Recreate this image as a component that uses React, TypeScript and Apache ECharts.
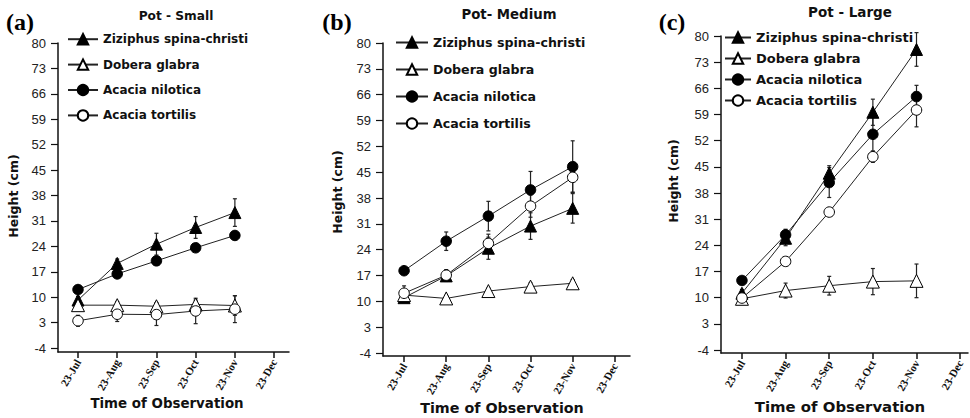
import React, { useEffect, useRef } from 'react';
import * as echarts from 'echarts';

const months = ['23-Jul', '23-Aug', '23-Sep', '23-Oct', '23-Nov', '23-Dec'];
const yTicks = [-4, 3, 10, 17, 24, 31, 38, 45, 52, 59, 66, 73, 80];
const species = ['Ziziphus spina-christi', 'Dobera glabra', 'Acacia nilotica', 'Acacia tortilis'];
const panelTitles = ['Pot - Small', 'Pot- Medium', 'Pot - Large'];
const panelLetters = ['(a)', '(b)', '(c)'];

// Pot - Small
const smallZiziphus = [9.2, 19.3, 24.6, 29.2, 33.3];
const smallZiziphusErr = [1.0, 1.2, 3.0, 3.0, 3.8];
const smallDobera = [7.8, 7.8, 7.5, 8.0, 7.7];
const smallDoberaErr = [1.0, 1.0, 1.0, 1.2, 2.7];
const smallNilotica = [12.1, 16.4, 20.0, 23.6, 27.0];
const smallNiloticaErr = [0.8, 0.8, 0.8, 1.0, 1.2];
const smallTortilis = [3.5, 5.3, 5.2, 6.2, 6.7];
const smallTortilisErr = [1.5, 2.0, 3.0, 3.5, 3.7];

// Pot - Medium
const mediumZiziphus = [11.0, 16.9, 24.4, 30.4, 35.2];
const mediumZiziphusErr = [0.8, 1.5, 3.0, 3.6, 4.0];
const mediumDobera = [11.7, 10.8, 12.8, 14.0, 14.9];
const mediumDoberaErr = [0.8, 0.8, 0.8, 1.0, 1.0];
const mediumNilotica = [18.3, 26.3, 33.1, 40.2, 46.5];
const mediumNiloticaErr = [0.8, 2.5, 4.0, 5.0, 7.0];
const mediumTortilis = [12.2, 17.1, 25.7, 35.8, 43.6];
const mediumTortilisErr = [2.0, 1.5, 2.5, 3.0, 4.0];

// Pot - Large
const largeZiziphus = [11.2, 25.9, 43.3, 59.6, 76.4];
const largeZiziphusErr = [1.0, 2.0, 2.0, 3.5, 4.5];
const largeDobera = [9.7, 11.9, 13.2, 14.3, 14.5];
const largeDoberaErr = [0.8, 2.0, 2.5, 3.5, 4.5];
const largeNilotica = [14.6, 26.8, 40.8, 53.7, 63.8];
const largeNiloticaErr = [0.8, 1.5, 4.0, 4.5, 3.0];
const largeTortilis = [9.9, 19.7, 32.9, 47.7, 60.2];
const largeTortilisErr = [0.8, 1.0, 1.0, 1.5, 4.5];

const panelValues = [
  [smallZiziphus, smallDobera, smallNilotica, smallTortilis],
  [mediumZiziphus, mediumDobera, mediumNilotica, mediumTortilis],
  [largeZiziphus, largeDobera, largeNilotica, largeTortilis],
];
const panelErrors = [
  [smallZiziphusErr, smallDoberaErr, smallNiloticaErr, smallTortilisErr],
  [mediumZiziphusErr, mediumDoberaErr, mediumNiloticaErr, mediumTortilisErr],
  [largeZiziphusErr, largeDoberaErr, largeNiloticaErr, largeTortilisErr],
];

const markerShape = ['triangle', 'triangle', 'circle', 'circle'];
const markerFill = ['#000', '#fff', '#000', '#fff'];
const markerSize = [12, 13, 10.5, 10.5];

const grids = [
  { left: 58, top: 43, width: 231, height: 309 },
  { left: 383, top: 43, width: 247, height: 313 },
  { left: 721, top: 36, width: 247, height: 317 },
];
const xRange = [
  [-0.51, 5.38],
  [-0.5, 5.36],
  [-0.48, 5.18],
];
const yMin = [-5.1, -4.8, -4.8];

const legendPos = [
  { left: 67, top: 33, itemWidth: 30, gap: 13, font: 12 },
  { left: 395, top: 36, itemWidth: 32, gap: 14, font: 12.6 },
  { left: 724, top: 31, itemWidth: 26, gap: 8, font: 13 },
];

const titlePos = [
  { x: 176, y: 16, size: 12.2 },
  { x: 509, y: 14, size: 13.3 },
  { x: 850, y: 12, size: 13.5 },
];
const letterPos = [
  { x: 20, y: 22 },
  { x: 337, y: 22 },
  { x: 672, y: 22 },
];
const yNamePos = [
  { x: 13, y: 196 },
  { x: 337, y: 192 },
  { x: 673, y: 181 },
];
const xNamePos = [
  { x: 167, y: 403, size: 13.4 },
  { x: 502, y: 408, size: 14.3 },
  { x: 840, y: 407, size: 14.9 },
];

function buildOption() {
  const series: any[] = [];
  for (let p = 0; p < 3; p++) {
    for (let s = 0; s < 4; s++) {
      const vals = panelValues[p][s];
      const errs = panelErrors[p][s];
      series.push({
        name: 'err-' + p + '-' + s,
        type: 'custom',
        xAxisIndex: p,
        yAxisIndex: p,
        silent: true,
        z: 1,
        encode: { x: 0, y: [1, 2] },
        data: vals.map((v, i) => [i, v - errs[i], v + errs[i]]),
        renderItem: (params: any, api: any) => {
          const x = api.value(0);
          const lo = api.coord([x, api.value(1)]);
          const hi = api.coord([x, api.value(2)]);
          const st = { stroke: '#222', lineWidth: 1.2 };
          const cap = 2;
          return {
            type: 'group',
            children: [
              { type: 'line', shape: { x1: lo[0], y1: lo[1], x2: hi[0], y2: hi[1] }, style: st },
              { type: 'line', shape: { x1: hi[0] - cap, y1: hi[1], x2: hi[0] + cap, y2: hi[1] }, style: st },
              { type: 'line', shape: { x1: lo[0] - cap, y1: lo[1], x2: lo[0] + cap, y2: lo[1] }, style: st },
            ],
          };
        },
      });
    }
    for (let s = 0; s < 4; s++) {
      series.push({
        name: species[s],
        type: 'line',
        xAxisIndex: p,
        yAxisIndex: p,
        z: 3,
        symbol: markerShape[s],
        symbolSize: markerSize[s],
        showSymbol: true,
        itemStyle: { color: markerFill[s], borderColor: '#000', borderWidth: 1 },
        lineStyle: { color: '#222', width: 1 },
        data: panelValues[p][s].map((v, i) => [i, v]),
      });
    }
  }

  const graphic: any[] = [];
  for (let p = 0; p < 3; p++) {
    graphic.push({
      type: 'text',
      x: titlePos[p].x,
      y: titlePos[p].y,
      style: {
        text: panelTitles[p],
        fontFamily: 'DejaVu Sans',
        fontWeight: 'bold',
        fontSize: titlePos[p].size,
        fill: '#111',
        align: 'center',
        verticalAlign: 'middle',
      },
    });
    graphic.push({
      type: 'text',
      x: letterPos[p].x,
      y: letterPos[p].y,
      style: {
        text: panelLetters[p],
        fontFamily: 'Liberation Serif',
        fontWeight: 'bold',
        fontSize: 24,
        fill: '#000',
        align: 'center',
        verticalAlign: 'middle',
      },
    });
    graphic.push({
      type: 'text',
      x: yNamePos[p].x,
      y: yNamePos[p].y,
      rotation: Math.PI / 2,
      style: {
        text: 'Height (cm)',
        fontFamily: 'DejaVu Sans',
        fontWeight: 'bold',
        fontSize: 12.5,
        fill: '#111',
        align: 'center',
        verticalAlign: 'middle',
      },
    });
    graphic.push({
      type: 'text',
      x: xNamePos[p].x,
      y: xNamePos[p].y,
      style: {
        text: 'Time of Observation',
        fontFamily: 'DejaVu Sans',
        fontWeight: 'bold',
        fontSize: xNamePos[p].size,
        fill: '#111',
        align: 'center',
        verticalAlign: 'middle',
      },
    });
  }

  return {
    animation: false,
    backgroundColor: '#fff',
    grid: grids.map((g) => ({ ...g, containLabel: false, outerBoundsMode: 'none' })),
    xAxis: grids.map((g, p) => ({
      type: 'value',
      gridIndex: p,
      min: xRange[p][0],
      max: xRange[p][1],
      splitLine: { show: false },
      axisLine: { show: true, onZero: false, lineStyle: { color: '#111', width: 1.5 } },
      axisTick: {
        show: true,
        length: 6,
        customValues: [0, 1, 2, 3, 4, 5],
        lineStyle: { color: '#111', width: 1.5 },
      },
      axisLabel: {
        customValues: [0, 1, 2, 3, 4, 5],
        rotate: 60,
        margin: 8,
        fontFamily: 'Liberation Serif',
        fontWeight: 'bold',
        fontSize: 11,
        color: '#111',
        formatter: (v: number) => months[Math.round(v)] ?? '',
      },
    })),
    yAxis: grids.map((g, p) => ({
      type: 'value',
      gridIndex: p,
      min: yMin[p],
      max: 80,
      splitLine: { show: false },
      axisLine: { show: true, onZero: false, lineStyle: { color: '#111', width: 1.5 } },
      axisTick: {
        show: true,
        length: 7,
        customValues: yTicks,
        lineStyle: { color: '#111', width: 1.2 },
      },
      axisLabel: {
        customValues: yTicks,
        margin: 12,
        fontFamily: 'Liberation Sans',
        fontSize: 13,
        color: '#222',
      },
    })),
    legend: legendPos.map((l) => ({
      orient: 'vertical',
      left: l.left,
      top: l.top,
      itemWidth: l.itemWidth,
      itemHeight: 13,
      itemGap: l.gap,
      padding: 0,
      selectedMode: false,
      data: species,
      textStyle: {
        fontFamily: 'DejaVu Sans',
        fontWeight: 'bold',
        fontSize: l.font,
        color: '#111',
      },
    })),
    series,
    graphic,
  };
}

export default function App() {
  const ref = useRef<HTMLDivElement>(null);
  useEffect(() => {
    const chart = echarts.init(ref.current!, null, { renderer: 'svg' });
    chart.setOption(buildOption() as any);
    return () => chart.dispose();
  }, []);
  return (
    <div
      ref={ref}
      style={{ position: 'absolute', left: 0, top: 0, width: 970, height: 418 }}
    />
  );
}
